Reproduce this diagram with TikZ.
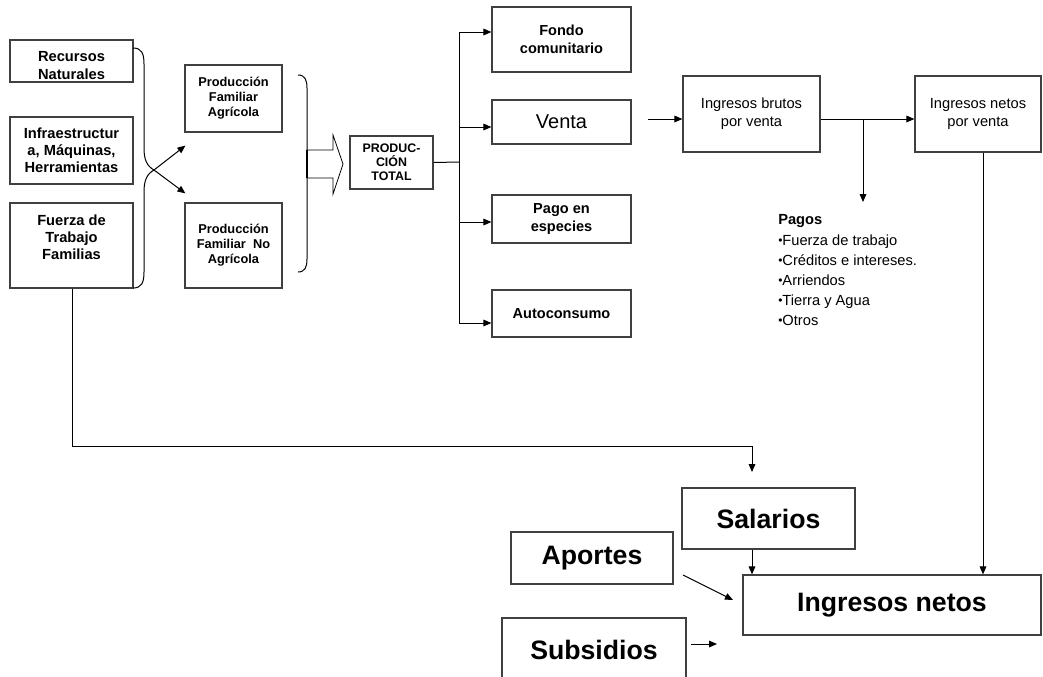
\documentclass[tikz,border=0pt]{standalone}
\usepackage{fontspec}
\setmainfont{Liberation Sans}
\usetikzlibrary{arrows.meta,calc}
\newcommand\blt{{\fontsize{9}{9}\selectfont\raisebox{0.6pt}{•}}}
\begin{document}
\begin{tikzpicture}[x=0.75pt,y=-0.75pt,
  box/.style={draw=black!75, line width=0.9pt, fill=white, inner sep=0pt, align=center},
  sz/.style 2 args={minimum width=#1*0.75pt, minimum height=#2*0.75pt},
  lbold/.style={font=\fontsize{11}{12.8}\selectfont\bfseries},
  pbold/.style={font=\fontsize{9.6}{11.3}\selectfont\bfseries},
  rbold/.style={font=\fontsize{10.9}{13.7}\selectfont\bfseries},
  plain/.style={font=\fontsize{11}{13.5}\selectfont},
  big/.style={font=\fontsize{20}{24}\selectfont\bfseries},
  link/.style={line width=0.75pt},
  arr/.style={line width=0.75pt, -{Triangle[length=6pt,width=5pt]}}]
\clip (0,0) rectangle (1043,676);
\fill[white] (0,0) rectangle (1043,676);

% resources
\node[box, sz={123}{42}, label={[lbold, align=center, yshift=-3.4pt]center:Recursos\\Naturales}] (rec) at (71.5,61) {};
\node[box, sz={123}{67}, lbold] (inf) at (71.5,150.5) {Infraestructur\\a, Máquinas,\\Herramientas};
\node[box, sz={123}{85}, label={[lbold, align=center, yshift=6pt]center:Fuerza de\\Trabajo\\Familias}] (fue) at (71.5,245.5) {};

% family production
\node[box, sz={97}{67}, pbold] (pfa) at (233.5,98.5) {Producción\\Familiar\\Agrícola};
\node[box, sz={97}{85}, pbold] (pfn) at (233.5,245.5) {Producción\\Familiar\ \ No\\Agrícola};

% left brace with crossing arrows
\coordinate (x) at (154,170);
\draw[link] (133,48) .. controls (142,48) and (144,54) .. (144,64) -- (144,148) .. controls (144,160) and (147,166) .. (x);
\draw[link] (133,288) .. controls (142,288) and (144,282) .. (144,272) -- (144,192) .. controls (144,180) and (147,174) .. (x);
\draw[arr] (x) -- ($(pfa.south west)+(1,13)$);
\draw[arr] (x) -- ($(pfn.north west)+(1,-9)$);

% right brace and block arrow
\draw[link] (298,75) .. controls (305,75) and (307,80) .. (307,88) -- (307,259) .. controls (307,267) and (305,272) .. (298,272);
\draw[line width=0.6pt, fill=white] (307,150) -- (333,150) -- (333,135) -- (343,164) -- (333,194) -- (333,178) -- (307,178) -- cycle;
\draw[line width=1.2pt] (307,150) -- (307,178);

% total production
\node[box, sz={83}{53}, font=\fontsize{9.3}{10.6}\selectfont\bfseries] (tot) at (391.5,162.5) {PRODUC-\\CIÓN\\TOTAL};

% destinations
\node[box, sz={139}{65}, rbold] (fon) at (561.5,39.5) {Fondo\\comunitario};
\node[box, sz={139}{44}, font=\fontsize{15}{18}\selectfont] (ven) at (561.5,122) {Venta};
\node[box, sz={139}{48}, rbold] (pag) at (561.5,219) {Pago en\\especies};
\node[box, sz={139}{47}, rbold] (aut) at (561.5,313.5) {Autoconsumo};

\coordinate (bus) at (459,162);
\coordinate (bt) at (459,32);
\coordinate (bv) at (459,127);
\coordinate (bp) at (459,222);
\coordinate (bb) at (459,323);
\draw[link] (tot.east) -- (bus);
\draw[link] (bt) -- (bb);
\draw[arr] (bt) -- (bt -| fon.west);
\draw[arr] (bv) -- (bv -| ven.west);
\draw[arr] (bp) -- (bp -| pag.west);
\draw[arr] (bb) -- (bb -| aut.west);

% sales income
\node[box, sz={137}{76}, plain] (ibv) at (751.5,114) {Ingresos brutos\\por venta};
\node[box, sz={126}{76}, plain] (inv) at (978,114) {Ingresos netos\\por venta};
\coordinate (vin) at (648,119);
\coordinate (j) at (863,119);
\coordinate (pg) at (863,202);
\draw[arr] (vin) -- (vin -| ibv.west);
\draw[link] (j -| ibv.east) -- (j);
\draw[arr] (j) -- (j -| inv.west);
\draw[arr] (j) -- (pg);

\node[anchor=north west, inner sep=0pt, align=left, font=\fontsize{11}{15}\selectfont] (pagos) at (778,214)
  {\textbf{Pagos}\\[0.6pt]\blt Fuerza de trabajo\\\blt Créditos e intereses.\\\blt Arriendos\\\blt Tierra y Agua\\\blt Otros};

% net income
\node[box, sz={173}{61}, big] (sal) at (768.5,518.5) {Salarios};
\node[box, sz={162}{52}, big] (apo) at (592,558) {Aportes};
\node[box, sz={298}{60}, big] (net) at (892,605) {Ingresos netos};
\node[box, sz={184}{64}, big] (sub) at (594,650) {Subsidios};

\coordinate (c1) at (72,446);
\coordinate (c2) at (752,446);
\coordinate (c3) at (752,472);
\draw[arr] (fue.south -| c1) -- (c1) -- (c2) -- (c3);
\draw[arr] (sal.south -| c2) -- (net.north -| c2);

\coordinate (rv) at (983,400);
\draw[arr] (rv |- inv.south) -- (rv |- net.north);

\coordinate (a1) at (683,575);
\coordinate (a2) at (733,600);
\draw[arr] (a1) -- (a2);
\coordinate (s1) at (691,644);
\coordinate (s2) at (717,644);
\draw[arr] (s1) -- (s2);
\end{tikzpicture}
\end{document}
